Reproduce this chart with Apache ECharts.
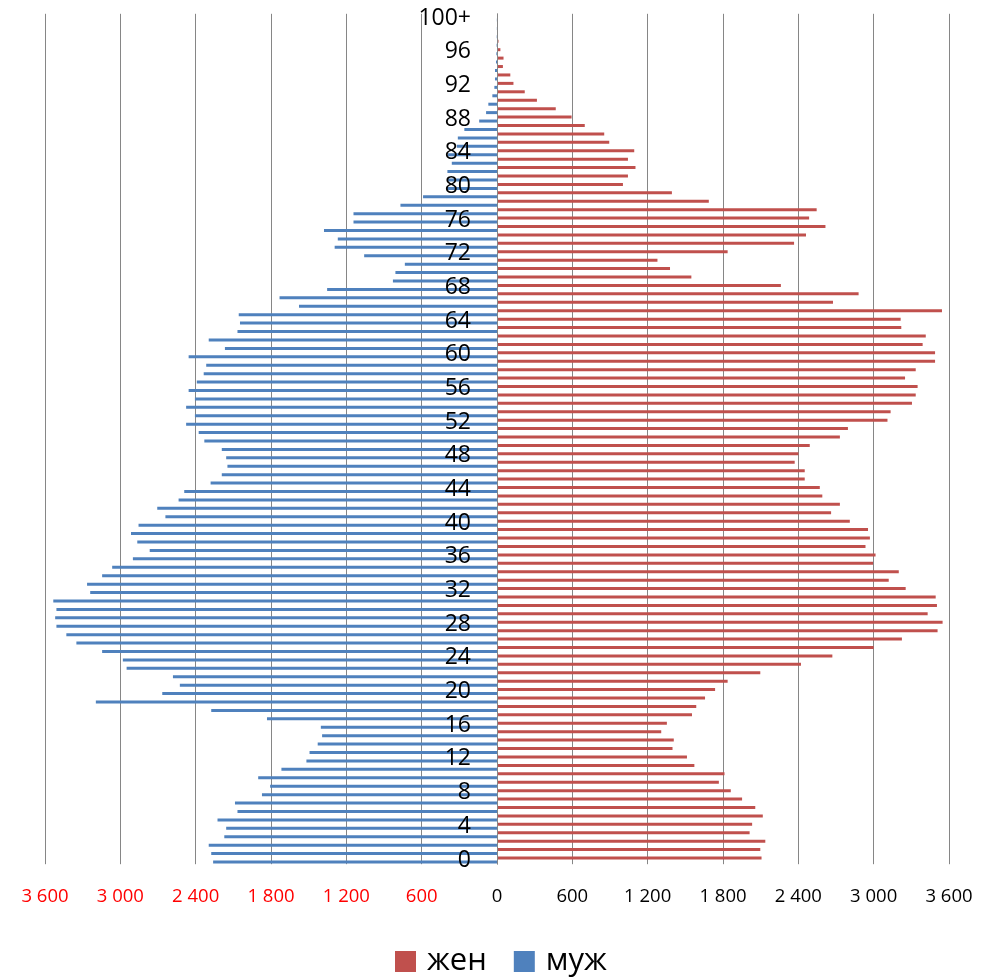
<!DOCTYPE html>
<html>
<head>
<meta charset="utf-8">
<script src="https://cdn.jsdelivr.net/npm/echarts@6/dist/echarts.min.js"></script>
<style>
html,body{margin:0;padding:0;background:#fff;}
#chart{width:984px;height:980px;}
</style>
</head>
<body>
<div id="chart"></div>
<script>
// Age categories 0..99, 100+
const ages = [];
for (let i = 0; i < 100; i++) ages.push(String(i));
ages.push('100+');

// муж (male) by age 0..100+
const male = [
  2261,2276,2296,2172,2157,2226,2067,2087,1872,1807,
  1902,1717,1518,1493,1428,1393,1403,1832,2276,3195,
  2666,2526,2581,2950,2980,3145,3350,3430,3509,3519,
  3509,3534,3240,3265,3145,3065,2900,2766,2865,2915,
  2855,2641,2706,2536,2491,2281,2192,2147,2157,2192,
  2331,2376,2476,2406,2476,2406,2456,2391,2336,2316,
  2456,2167,2296,2067,2047,2057,1577,1732,1353,829,
  809,734,1058,1293,1268,1378,1143,1143,769,589,
  400,390,395,360,390,320,312,260,142,87,
  69,37,21,16,16,8,5,3,2,1,
  1
];

// жен (female) by age 0..100+
const female = [
  2107,2097,2137,2012,2032,2117,2057,1952,1862,1767,
  1812,1572,1513,1398,1408,1308,1353,1553,1587,1657,
  1737,1837,2097,2421,2671,3000,3225,3509,3549,3430,
  3504,3494,3255,3120,3200,2995,3015,2935,2970,2955,
  2810,2661,2731,2591,2571,2451,2451,2371,2401,2491,
  2731,2795,3110,3135,3305,3335,3350,3250,3335,3489,
  3489,3390,3415,3220,3215,3544,2676,2880,2261,1548,
  1378,1278,1837,2366,2461,2616,2486,2546,1687,1393,
  1003,1043,1103,1043,1093,894,854,699,594,468,
  318,221,131,106,47,52,27,12,6,4,
  8
];

const xTicks = [-3600,-3000,-2400,-1800,-1200,-600,0,600,1200,1800,2400,3000,3600];
const seriesNames = ['жен','муж'];

function fmt(v){
  const s = String(Math.abs(v));
  return s.replace(/\B(?=(\d{3})+(?!\d))/g, ' ');
}

const chart = echarts.init(document.getElementById('chart'), null, {renderer:'canvas'});
const FONT = '"Open Sans", "Noto Sans", sans-serif';
const GRID_LEFT = 45, GRID_RIGHT = 35;
const plotW = 984 - GRID_LEFT - GRID_RIGHT;
const zeroOffset = plotW * (0 - xTicks[0]) / (xTicks[xTicks.length-1] - xTicks[0]);

chart.setOption({
  backgroundColor: '#ffffff',
  animation: false,
  grid: { left: GRID_LEFT, right: GRID_RIGHT, top: 13.8, bottom: 115.8, containLabel: false, outerBoundsMode: 'none' },
  xAxis: {
    type: 'value',
    min: xTicks[0],
    max: xTicks[xTicks.length-1],
    interval: 600,
    axisLine: { show: false },
    axisTick: { show: false },
    splitLine: { show: true, lineStyle: { color: '#868686', width: 1 } },
    axisLabel: {
      margin: 23,
      fontFamily: FONT,
      fontSize: 18.5,
      formatter: function(v){
        return v < 0 ? '{r|' + fmt(v) + '}' : '{b|' + fmt(v) + '}';
      },
      rich: {
        r: { color: '#ff0000', fontFamily: FONT, fontSize: 18.5 },
        b: { color: '#000000', fontFamily: FONT, fontSize: 18.5 }
      }
    }
  },
  yAxis: {
    type: 'category',
    data: ages,
    z: 10,
    offset: -zeroOffset,
    axisLine: { show: true, onZero: false, lineStyle: { color: '#868686', width: 1 } },
    axisTick: { show: false },
    splitLine: { show: false },
    axisLabel: {
      interval: 3,
      margin: 26,
      color: '#000000',
      fontFamily: FONT,
      fontSize: 23
    }
  },
  legend: {
    data: seriesNames,
    left: 390,
    top: 941,
    icon: 'rect',
    itemWidth: 21,
    itemHeight: 21,
    itemGap: 27,
    textStyle: { fontFamily: FONT, fontSize: 31, color: '#000', padding: [0,0,0,6] }
  },
  series: [
    {
      name: seriesNames[0],
      type: 'bar',
      data: female,
      barWidth: 3,
      barGap: '33%',
      itemStyle: { color: '#C0504D' }
    },
    {
      name: seriesNames[1],
      type: 'bar',
      data: male.map(v => -v),
      barWidth: 3,
      barGap: '33%',
      itemStyle: { color: '#4F81BD' }
    }
  ]
});
</script>
</body>
</html>
